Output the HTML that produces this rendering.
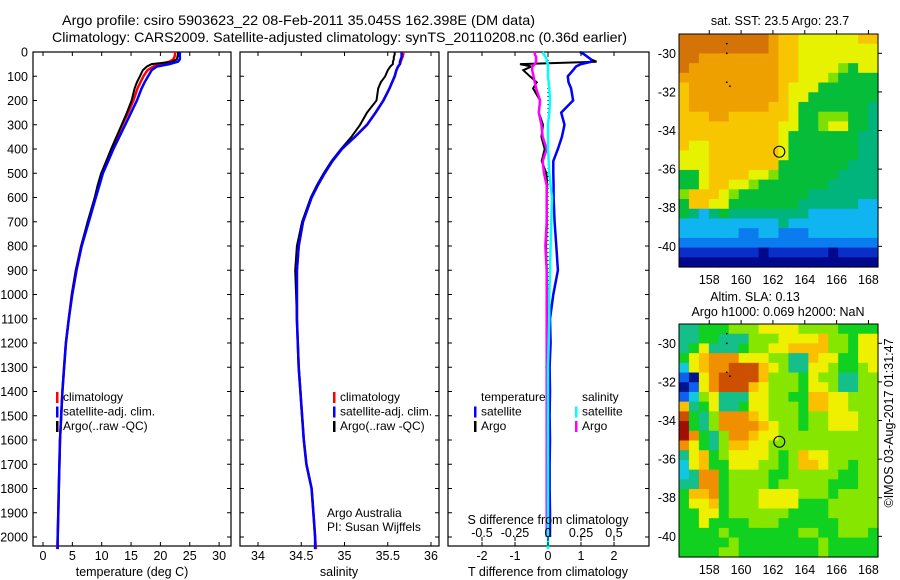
<!DOCTYPE html>
<html><head><meta charset="utf-8"><style>
html,body{margin:0;padding:0;background:#fff;}
svg{display:block;font-family:"Liberation Sans",sans-serif;}
</style></head><body>
<svg id="fig" width="900" height="580" viewBox="0 0 900 580" xmlns="http://www.w3.org/2000/svg">
<text x="62" y="25" font-size="14" textLength="473" lengthAdjust="spacingAndGlyphs">Argo profile: csiro 5903623_22 08-Feb-2011 35.045S 162.398E (DM data)</text>
<text x="52" y="42" font-size="14" textLength="575" lengthAdjust="spacingAndGlyphs">Climatology: CARS2009. Satellite-adjusted climatology: synTS_20110208.nc (0.36d earlier)</text>
<g id="plots"></g>
</svg>
<script>
// ---- profile data ----
const depths   = [0,10,20,30,40,50,60,75,100,125,150,200,250,300,350,400,450,500,550,600,700,800,900,1000,1100,1200,1300,1400,1500,1600,1700,1800,1900,2000,2050];
const tempClim = [22.5,22.5,22.4,22.2,21.5,20.0,18.8,17.8,17.1,16.6,16.1,15.4,14.5,13.5,12.6,11.7,10.8,10.0,9.4,8.9,7.7,6.5,5.6,4.9,4.4,3.9,3.6,3.3,3.1,2.9,2.8,2.7,2.6,2.5,2.4];
const tempSat  = [23.3,23.3,23.3,23.3,23.0,21.5,19.4,18.5,17.9,17.3,16.8,16.0,15.0,14.0,13.0,12.0,11.1,10.2,9.6,9.0,7.8,6.6,5.7,5.0,4.4,3.9,3.6,3.3,3.1,2.9,2.8,2.7,2.6,2.5,2.5];
const tempArgo = [23.0,23.0,22.9,22.8,22.0,18.5,17.7,17.0,16.5,16.0,15.6,15.1,14.3,13.4,12.5,11.6,10.8,9.9,9.3,8.8,7.6,6.5,5.6,4.9,4.4,3.9,3.6,3.3,3.1,2.9,2.8,2.7,2.6,2.5,null];
const salClim  = [35.68,35.68,35.67,35.66,35.65,35.64,35.62,35.60,35.58,35.55,35.52,35.45,35.36,35.26,35.12,34.97,34.86,34.77,34.69,34.62,34.52,34.47,34.45,34.45,34.45,34.46,34.47,34.49,34.51,34.53,34.56,34.62,34.64,34.66,34.67];
const salSat   = [35.66,35.66,35.66,35.65,35.64,35.64,35.62,35.60,35.58,35.55,35.52,35.45,35.36,35.26,35.12,34.97,34.86,34.77,34.69,34.62,34.52,34.47,34.45,34.45,34.45,34.46,34.47,34.49,34.51,34.53,34.56,34.62,34.64,34.66,34.66];
const salArgo  = [35.58,35.58,35.57,35.57,35.56,35.56,35.53,35.50,35.47,35.42,35.39,35.37,35.26,35.18,35.08,34.96,34.85,34.76,34.68,34.61,34.51,34.45,34.43,34.44,34.45,34.46,34.47,34.49,34.51,34.53,34.56,34.62,34.64,34.66,null];
const dTSat    = [0.97,1.1,1.2,1.3,1.32,1.0,0.85,0.76,0.6,0.62,0.7,0.76,0.4,0.5,0.42,0.3,0.16,0.16,0.17,0.17,0.2,0.25,0.3,0.16,0.06,0.08,0.05,0.06,0.05,0.06,0.05,0.05,0.06,0.06,null];
const dTArgo   = [1.0,1.1,1.2,1.3,1.47,-0.85,-0.5,-0.75,-0.55,-0.34,-0.45,-0.24,-0.28,-0.15,-0.2,-0.1,-0.19,-0.05,-0.02,-0.04,-0.03,-0.06,-0.04,-0.02,-0.03,-0.01,-0.05,-0.02,-0.01,-0.01,-0.01,-0.01,-0.01,-0.01,null];
const dSSat    = [-0.04,-0.03,-0.02,-0.01,-0.01,0,0,0,0,0.005,0.01,0.015,0.01,0,0,0,0.005,0.01,0.02,0.03,0.025,0.02,0.015,0.01,0.01,0.005,0,0,0,0,0,0,0,0,0];
const dSArgo   = [-0.1,-0.1,-0.09,-0.09,-0.09,-0.1,-0.12,-0.12,-0.11,-0.1,-0.09,-0.06,-0.07,-0.05,-0.04,-0.01,-0.04,-0.03,-0.01,-0.01,-0.01,-0.02,-0.01,-0.01,-0.01,-0.01,-0.01,-0.01,-0.01,-0.01,-0.01,-0.01,-0.01,-0.01,null];
const depthTicks = [0,100,200,300,400,500,600,700,800,900,1000,1100,1200,1300,1400,1500,1600,1700,1800,1900,2000];
const tempTicks = [0,5,10,15,20,25,30];
const salTicks = [34,34.5,35,35.5,36];
const dTTicks = [-2,-1,0,1,2];
const dSTicks = [-0.5,-0.25,0,0.25,0.5];
const dSTickLabels = ["-0.5","-0.25","0","0.25","0.5"];
// ---- map data (rows from north to south, cols west to east) ----
const sstGrid = [
"aaaaaaaaa98877777788","aaaaaaaaa98877777777","aa999999998877777777","a9999999998877776577",
"99999999998877765555","89999999998777555555","89999999998775555555","89999999988755555554",
"88899888888755666554","88888888887755677554","88888888887555555544","87788888887555555544",
"77788888887555555544","77788888885555555444","55788887765555554444","55788776555555544444",
"68887655555554444444","58877555555544444433","54345444444443333333","33333333334333333333",
"33333322332223333333","22222222222222222222","11111111011111101111","00000000000000000000"];
const slaGrid = [
"33444555666655554444","33443335556666755466","34633345566777755466","46788866655337664466",
"26788999765336654456","10689999755546553355","01689997655546653355","12563336655447766555",
"73463346655547766555","94358887655545566655","a4358888765545566655","a8435887665555555555",
"86435776655555555555","36745666654576655555","26744666554577655455","23884555544555554455",
"33884555545555544455","47784555666655545555","46674555666644455555","44664555555444455555",
"44644445554444445555","44445444444455445554","44444544444444544444","44445544444444544444"];
const mapLonTicks = [158,160,162,164,166,168];
const mapLatTicks = [-30,-32,-34,-36,-38,-40];
const argoLon = 162.4, argoLat = -35.1;

const NS="http://www.w3.org/2000/svg";
const root=document.getElementById('plots');
function el(tag,attrs,parent){const e=document.createElementNS(NS,tag);for(const k in attrs)e.setAttribute(k,attrs[k]);(parent||root).appendChild(e);return e;}
function txt(x,y,s,size,anchor,parent){const t=el('text',{x:x,y:y,'font-size':size,'text-anchor':anchor||'middle'},parent);t.textContent=s;return t;}

const yTop=52, yBot=546;
const yD=d=>yTop+d*0.2425;
function panel(name,x0,x1){
  const g=el('g',{});
  
  
  const r=el('rect',{x:x0,y:yTop,width:x1-x0,height:yBot-yTop,fill:'none',stroke:'#000','stroke-width':1.2},g);
  
  
  depthTicks.forEach(d=>{
    el('line',{x1:x0,x2:x0+4,y1:yD(d),y2:yD(d),stroke:'#000'},g);
    el('line',{x1:x1-4,x2:x1,y1:yD(d),y2:yD(d),stroke:'#000'},g);
  });
  return g;
}
function line(g,xs,xf,color,w,name){
  let pts=[];
  depths.forEach((d,i)=>{if(xs[i]!==null)pts.push(xf(xs[i]).toFixed(1)+','+yD(d).toFixed(1));});
  const p=el('polyline',{points:pts.join(' '),fill:'none',stroke:color,'stroke-width':w,'stroke-linejoin':'miter'},g);
  
  
}
function xTicks(g,vals,labels,xf,x0,x1,ly){
  vals.forEach((v,i)=>{const x=xf(v);
    el('line',{x1:x,x2:x,y1:yBot,y2:yBot-4,stroke:'#000'},g);
    el('line',{x1:x,x2:x,y1:yTop,y2:yTop+4,stroke:'#000'},g);
    const t=txt(x,ly,labels[i],12.5,'middle',g);
    
    
  });
}
function legend(g,x,y,items){
  items.forEach((it,i)=>{
    el('rect',{x:x,y:y+i*14.5-9,width:2.5,height:11,fill:it[1]},g);
    const t=txt(x+7,y+i*14.5,it[0],12,'start',g);
    
    
  });
}

// Panel 1: temperature
const xT=v=>43+v*5.87;
const g1=panel('temperature-panel',33,231);
depthTicks.forEach(d=>{const t=txt(28,yD(d)+4.5,String(d),12.5,'end',g1);
  
  });
line(g1,tempClim,xT,'#f00',2.5,'temp-climatology-line');
line(g1,tempArgo,xT,'#000',2,'temp-argo-line');
line(g1,tempSat,xT,'#00f',2.5,'temp-satellite-line');
xTicks(g1,tempTicks,tempTicks.map(String),xT,33,231,560);
let t=txt(132,576,'temperature (deg C)',12.5,'middle',g1);


legend(g1,56,401,[['climatology','#f00'],['satellite-adj. clim.','#00f'],['Argo(..raw -QC)','#000']]);

// Panel 2: salinity
const xS=v=>258+(v-34)*86.5;
const g2=panel('salinity-panel',240,439);
line(g2,salClim,xS,'#f00',2.5,'sal-climatology-line');
line(g2,salArgo,xS,'#000',2,'sal-argo-line');
line(g2,salSat,xS,'#00f',2.5,'sal-satellite-line');
xTicks(g2,salTicks,salTicks.map(String),xS,240,439,560);
t=txt(339,576,'salinity',12.5,'middle',g2);


legend(g2,333,401,[['climatology','#f00'],['satellite-adj. clim.','#00f'],['Argo(..raw -QC)','#000']]);
t=txt(327,517,'Argo Australia',12,'start',g2);


t=txt(327,531,'PI: Susan Wijffels',12,'start',g2);



// Panel 3: differences
const xDT=v=>548+v*33;
const xDS=v=>548+v*132;
const g3=panel('difference-panel',448,649);
el('line',{x1:548,x2:548,y1:yTop,y2:yBot,stroke:'#000','stroke-dasharray':'1,3'},g3);
line(g3,dTArgo,xDT,'#000',2,'tdiff-argo-line');
line(g3,dSArgo,xDS,'#f0f',2.5,'sdiff-argo-line');
line(g3,dTSat,xDT,'#00f',2.5,'tdiff-satellite-line');
line(g3,dSSat,xDS,'#0ff',2.5,'sdiff-satellite-line');
xTicks(g3,dTTicks,dTTicks.map(String),xDT,448,649,560);
dSTicks.forEach((v,i)=>{const x=xDS(v);
  el('line',{x1:x,x2:x,y1:537,y2:541,stroke:'#000'},g3);
  const tt=txt(x,537,dSTickLabels[i],12.5,'middle',g3);
  
  });
t=txt(548,524,'S difference from climatology',12.5,'middle',g3);


t=txt(548,576,'T difference from climatology',12.5,'middle',g3);


t=txt(481,401,'temperature',12,'start',g3);


t=txt(582,401,'salinity',12,'start',g3);


legend(g3,474,415.5,[['satellite','#00f'],['Argo','#000']]);
legend(g3,575,415.5,[['satellite','#0ff'],['Argo','#f0f']]);

// Maps
const sstPal={'0':'#00088c','1':'#0a2fc8','2':'#0a7cf0','3':'#10b4f0','4':'#00b47c','5':'#06bd3a','6':'#7ee000','7':'#e6f200','8':'#f8c600','9':'#eea000','a':'#d47408'};
const slaPal={'0':'#00158f','1':'#1060f0','2':'#10c8e0','3':'#14bf8a','4':'#10d020','5':'#86e600','6':'#eef000','7':'#fac000','8':'#f09000','9':'#cc5000','a':'#a01000'};
function drawMap(name,grid,pal,x0,y0,w,h){
  const g=el('g',{});
  
  
  const lonL=156.1,lonR=168.6,latT=-29.0,latB=-41.07;
  const xL=v=>x0+(v-lonL)/(lonR-lonL)*w;
  const yL=v=>y0+(latT-v)/(latT-latB)*h;
  const nr=grid.length,nc=grid[0].length;
  const cw=w/nc,ch=h/nr;
  grid.forEach((row,r)=>{for(let c=0;c<nc;c++){
    el('rect',{x:(x0+c*cw).toFixed(2),y:(y0+r*ch).toFixed(2),width:(cw+0.6).toFixed(2),height:(ch+0.6).toFixed(2),fill:pal[row[c]]},g);
  }});
  const f=el('rect',{x:x0,y:y0,width:w,height:h,fill:'none',stroke:'#000','stroke-width':1},g);
  
  
  mapLonTicks.forEach(v=>{const x=xL(v);
    el('line',{x1:x,x2:x,y1:y0-4,y2:y0,stroke:'#000'},g);
    const tt=txt(x,y0+h+17,String(v),12.5,'middle',g);
    
    });
  mapLatTicks.forEach(v=>{const y=yL(v);
    el('line',{x1:x0+w,x2:x0+w+4,y1:y,y2:y,stroke:'#000'},g);
    const tt=txt(x0-3,y+4.5,String(v),12.5,'end',g);
    
    });
  [[159.1,-29.5],[159.1,-30.0],[159.1,-31.5],[159.3,-31.7]].forEach(p=>el('circle',{cx:xL(p[0]),cy:yL(p[1]),r:0.9,fill:'#000'},g));
  const c=el('circle',{cx:xL(argoLon),cy:yL(argoLat),r:5.5,fill:'none',stroke:'#000','stroke-width':1.1},g);
  
  
}
drawMap('sst-map',sstGrid,sstPal,679,34,199,233);
drawMap('sla-map',slaGrid,slaPal,679,324,199,233);
t=txt(780,25,'sat. SST: 23.5 Argo: 23.7',12.5,'middle');


t=txt(755,301,'Altim. SLA: 0.13',12.5,'middle');


t=txt(778,316,'Argo h1000: 0.069 h2000: NaN',12.5,'middle');


t=txt(0,0,'©IMOS 03-Aug-2017 01:31:47',12.5,'middle');
t.setAttribute('transform','translate(893,423) rotate(-90)');


</script>
</body></html>
